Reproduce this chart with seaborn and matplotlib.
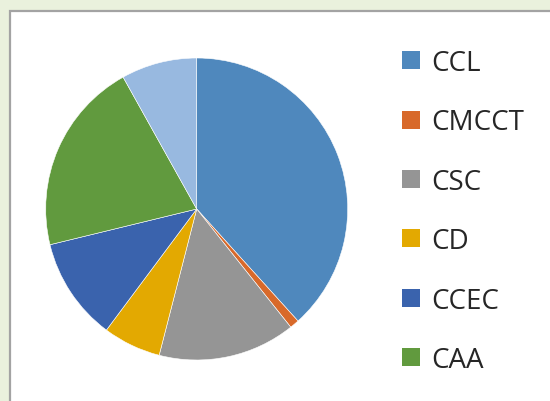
import matplotlib
matplotlib.use("Agg")
import matplotlib.pyplot as plt
import seaborn as sns
from matplotlib.patches import Patch, Rectangle

categories = ["CCL", "CMCCT", "CSC", "CD", "CCEC", "CAA", "Other"]
values = [38.3, 1.0, 14.7, 6.2, 11.0, 20.7, 8.1]
colors = ["#4f88bd", "#d8692a", "#959595", "#e3a901", "#3a63ad", "#619a3e", "#98b9e0"]
legend_labels = ["CCL", "CMCCT", "CSC", "CD", "CCEC", "CAA"]

sns.set_theme(style="white")
plt.rcParams["font.family"] = ["Open Sans", "DejaVu Sans"]

W, H = 550, 402
fig = plt.figure(figsize=(W / 100, H / 100), dpi=100)
fig.patch.set_facecolor("#eaf1dd")

# white inner panel with gray border
panel = Rectangle((9.5 / W, -0.1), 1.2, (H - 11.5) / H + 0.1, transform=fig.transFigure,
                  facecolor="white", edgecolor="#a3a3a3", linewidth=1.6, zorder=-5)
fig.patches.append(panel)

cx, cy, r = 196.7, 210.0, 151.0
ax = fig.add_axes([(cx - r) / W, (H - cy - r) / H, 2 * r / W, 2 * r / H])
ax.set_zorder(2)
ax.set_facecolor("none")
ax.pie(values, colors=colors, startangle=90, counterclock=False, radius=1.0,
       wedgeprops=dict(edgecolor="white", linewidth=0.4))
ax.set_xlim(-1, 1)
ax.set_ylim(-1, 1)
ax.set_aspect("auto")
ax.axis("off")

handles = [Patch(facecolor=c, edgecolor="none") for c in colors[:6]]
leg = fig.legend(handles, legend_labels, loc="upper left",
                 bbox_to_anchor=(402 / W, (H - 50) / H), frameon=False,
                 fontsize=20, labelcolor="#262626", handlelength=0.63, handleheight=0.63,
                 handletextpad=0.42, labelspacing=1.13, borderpad=0, borderaxespad=0)
leg.set_zorder(3)

fig.savefig("out.png", dpi=100, facecolor=fig.get_facecolor())
